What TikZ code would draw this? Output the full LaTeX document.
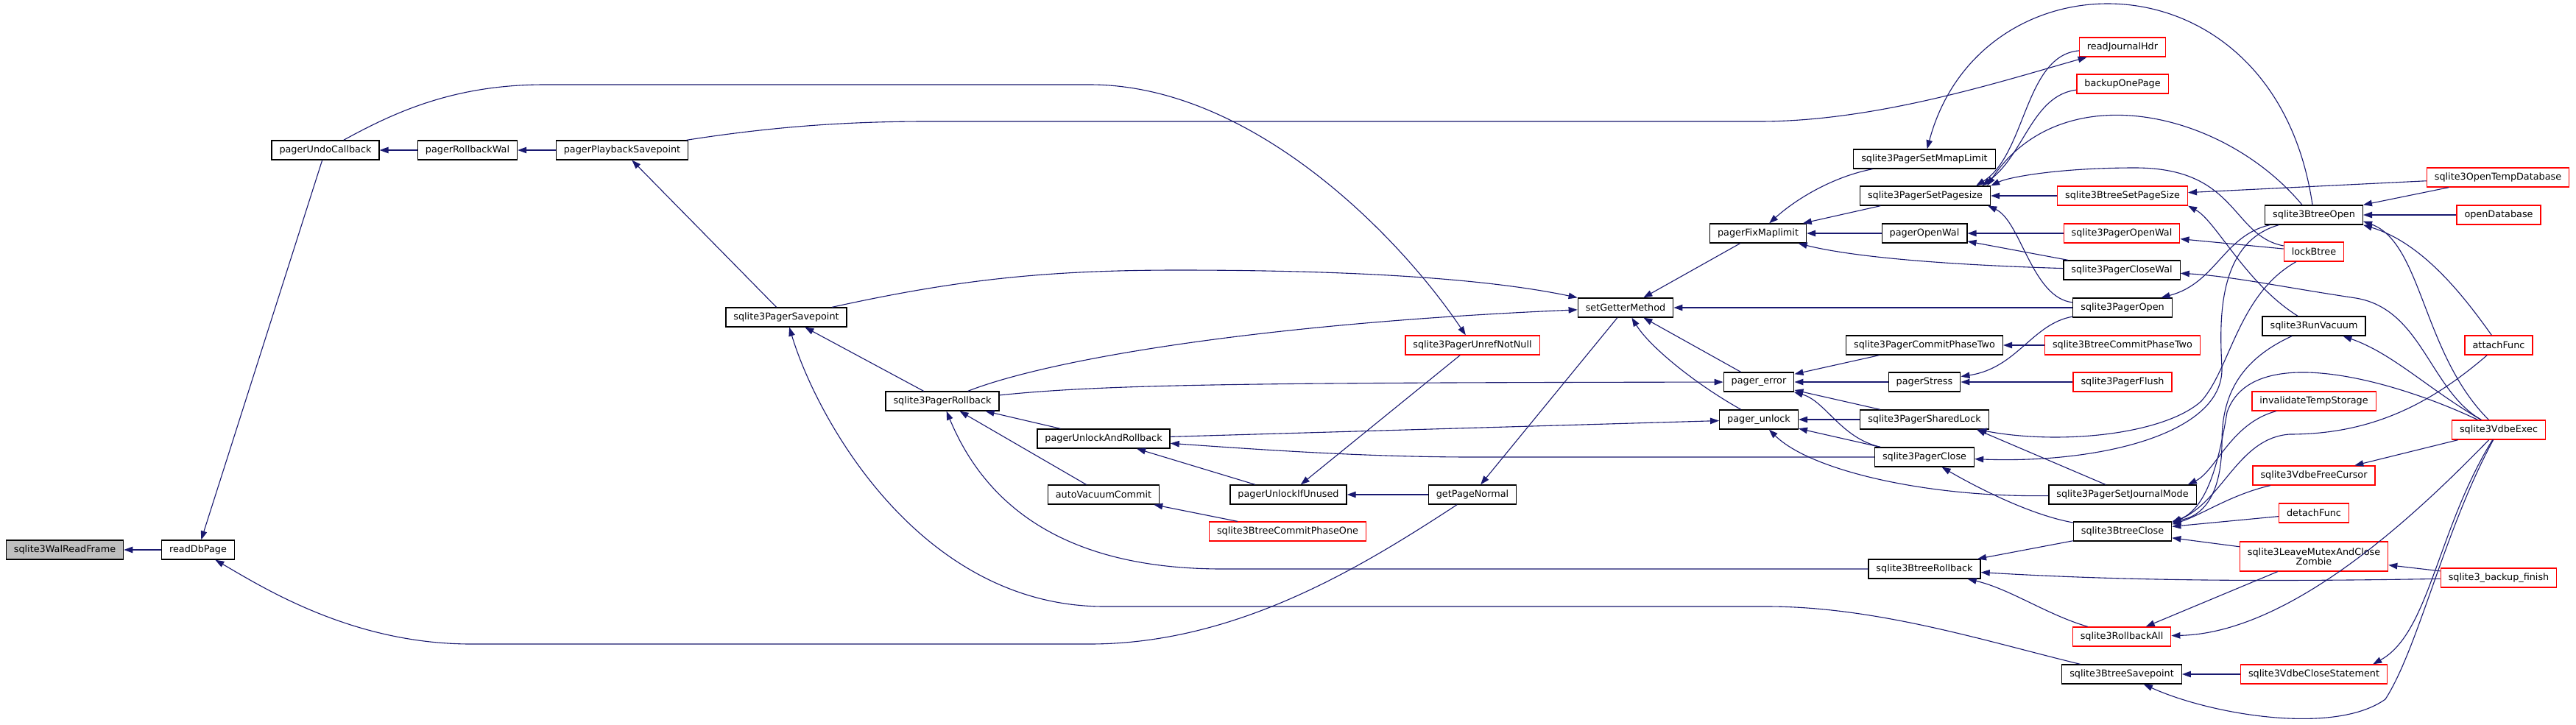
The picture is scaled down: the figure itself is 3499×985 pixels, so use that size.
\documentclass[tikz,border=0pt]{standalone}
\usepackage{fontspec}
\setmainfont{DejaVu Sans}
\usetikzlibrary{arrows.meta}
\definecolor{dxedge}{HTML}{191970}
\definecolor{dxred}{HTML}{FF0000}
\definecolor{dxroot}{HTML}{BFBFBF}

\begin{document}
\begin{tikzpicture}[x=1pt, y=-1pt,
    fn/.style={rectangle, draw=black, line width=1.3pt, fill=white,
               minimum height=26pt, inner xsep=10.5pt, inner ysep=2pt,
               align=center, font=\fontsize{12.8}{13.5}\selectfont},
    fnred/.style={fn, draw=dxred},
    fnroot/.style={fn, fill=dxroot},
    call/.style={-{Triangle[length=12pt,width=8.5pt]}, draw=dxedge, line width=1.1pt},
]
    \useasboundingbox (0,0) rectangle (3499,985);
    \fill[white] (0,0) rectangle (3499,985);

    % functions, one column per call depth
    \node[fnroot] (walread) at (88,747) {sqlite3WalReadFrame};
    \node[fn] (readdb) at (269,747) {readDbPage};
    \node[fn] (undocb) at (442,204) {pagerUndoCallback};
    \node[fn] (rbwal) at (635,204) {pagerRollbackWal};
    \node[fn] (playsp) at (845,204) {pagerPlaybackSavepoint};
    \node[fn] (pgsavept) at (1068,431) {sqlite3PagerSavepoint};
    \node[fn] (pgrollback) at (1280,545) {sqlite3PagerRollback};
    \node[fn] (unlockrb) at (1499,596) {pagerUnlockAndRollback};
    \node[fn] (autovac) at (1499,672) {autoVacuumCommit};
    \node[fn] (unlockifun) at (1750,672) {pagerUnlockIfUnused};
    \node[fnred] (btcommit1) at (1749,722) {sqlite3BtreeCommitPhaseOne};
    \node[fnred] (unrefnn) at (2000,469) {sqlite3PagerUnrefNotNull};
    \node[fn] (getpagenormal) at (2000,672) {getPageNormal};
    \node[fn] (setgetter) at (2208,418) {setGetterMethod};
    \node[fn] (fixmap) at (2388,317) {pagerFixMaplimit};
    \node[fn] (pgerror) at (2389,519) {pager\_error};
    \node[fn] (pgunlock) at (2389,570) {pager\_unlock};
    \node[fn] (setmmap) at (2614,216) {sqlite3PagerSetMmapLimit};
    \node[fn] (setpagesize) at (2615,266) {sqlite3PagerSetPagesize};
    \node[fn] (openwal) at (2614,317) {pagerOpenWal};
    \node[fn] (pgcommit2) at (2614,469) {sqlite3PagerCommitPhaseTwo};
    \node[fn] (stress) at (2614,519) {pagerStress};
    \node[fn] (sharedlock) at (2614,570) {sqlite3PagerSharedLock};
    \node[fn] (pgclose) at (2614,621) {sqlite3PagerClose};
    \node[fn] (btrollback) at (2614,773) {sqlite3BtreeRollback};
    \node[fnred] (jrnlhdr) at (2883,64) {readJournalHdr};
    \node[fnred] (backup1) at (2883,114) {backupOnePage};
    \node[fnred] (btsetpagesize) at (2883,266) {sqlite3BtreeSetPageSize};
    \node[fnred] (pgopenwal) at (2882,317) {sqlite3PagerOpenWal};
    \node[fn] (pgclosewal) at (2882,367) {sqlite3PagerCloseWal};
    \node[fn] (pgopen) at (2883,418) {sqlite3PagerOpen};
    \node[fnred] (btcommit2) at (2883,469) {sqlite3BtreeCommitPhaseTwo};
    \node[fnred] (pgflush) at (2883,519) {sqlite3PagerFlush};
    \node[fn] (jrnlmode) at (2883,672) {sqlite3PagerSetJournalMode};
    \node[fn] (btclose) at (2883,722) {sqlite3BtreeClose};
    \node[fnred] (rollbackall) at (2882,865) {sqlite3RollbackAll};
    \node[fn] (btsavept) at (2882,916) {sqlite3BtreeSavepoint};
    \node[fn] (btopen) at (3143,292) {sqlite3BtreeOpen};
    \node[fnred] (lockbt) at (3143,342) {lockBtree};
    \node[fn] (vacuum) at (3143,443) {sqlite3RunVacuum};
    \node[fnred] (invtemp) at (3143,545) {invalidateTempStorage};
    \node[fnred] (freecur) at (3143,646) {sqlite3VdbeFreeCursor};
    \node[fnred] (detach) at (3143,697) {detachFunc};
    \node[fnred, minimum height=40pt] (zombie) at (3143,756) {sqlite3LeaveMutexAndClose\\Zombie};
    \node[fnred] (closestmt) at (3143,916) {sqlite3VdbeCloseStatement};
    \node[fnred] (opentemp) at (3393,241) {sqlite3OpenTempDatabase};
    \node[fnred] (opendb) at (3394,292) {openDatabase};
    \node[fnred] (attach) at (3394,469) {attachFunc};
    \node[fnred] (vdbeexec) at (3394,584) {sqlite3VdbeExec};
    \node[fnred] (bkfinish) at (3394,785) {sqlite3\_backup\_finish};

    % calls into the left part
    \draw[call] (readdb) -- (walread);
    \draw[call] (undocb) -- (readdb);
    \draw[call] (getpagenormal) .. controls (1850,770) and (1680,875) .. (1480,875) -- (640,875)
        .. controls (480,875) and (360,800) .. (readdb);
    \draw[call] (rbwal) -- (undocb);
    \draw[call] (playsp) -- (rbwal);
    \draw[call] (pgsavept) -- (playsp);
    \draw[call] (pgrollback) -- (pgsavept);
    \draw[call] (btsavept) .. controls (2700,872) and (2550,824) .. (2400,824) -- (1500,824)
        .. controls (1250,824) and (1110,570) .. (pgsavept);
    \draw[call] (unlockrb) -- (pgrollback);
    \draw[call] (autovac) -- (pgrollback);
    \draw[call] (btrollback) -- (1660,773) .. controls (1450,773) and (1340,690) .. (pgrollback);
    \draw[call] (pgrollback) .. controls (1500,522) and (1700,520) .. (pgerror);
    \draw[call] (pgrollback) .. controls (1420,490) and (1700,440) .. (setgetter);
    \draw[call] (pgsavept) .. controls (1300,380) and (1420,367) .. (1600,367)
        .. controls (1900,367) and (2050,385) .. (setgetter);
    \draw[call] (playsp) .. controls (1050,172) and (1150,165) .. (1260,165) -- (2390,165)
        .. controls (2550,165) and (2720,110) .. (jrnlhdr);
    \draw[call] (undocb) .. controls (540,150) and (620,115) .. (740,115) -- (1480,115)
        .. controls (1700,115) and (1900,320) .. (unrefnn);
    \draw[call] (btcommit1) -- (autovac);
    \draw[call] (unlockifun) -- (unlockrb);
    \draw[call] (unrefnn) -- (unlockifun);
    \draw[call] (getpagenormal) -- (unlockifun);
    \draw[call] (unlockrb) -- (pgunlock);
    \draw[call] (pgclose) -- (2000,621) .. controls (1850,621) and (1700,610) .. (unlockrb);

    % middle part
    \draw[call] (setgetter) -- (getpagenormal);
    \draw[call] (fixmap) -- (setgetter);
    \draw[call] (pgerror) -- (setgetter);
    \draw[call] (pgunlock) .. controls (2300,520) and (2240,470) .. (setgetter);
    \draw[call] (pgopen) -- (setgetter);
    \draw[call] (setmmap) .. controls (2490,240) and (2440,270) .. (fixmap);
    \draw[call] (setpagesize) -- (fixmap);
    \draw[call] (openwal) -- (fixmap);
    \draw[call] (pgclosewal) .. controls (2650,360) and (2520,350) .. (fixmap);
    \draw[call] (pgcommit2) -- (pgerror);
    \draw[call] (stress) -- (pgerror);
    \draw[call] (sharedlock) -- (pgerror);
    \draw[call] (pgclose) .. controls (2500,595) and (2480,545) .. (pgerror);
    \draw[call] (sharedlock) -- (pgunlock);
    \draw[call] (pgclose) -- (pgunlock);
    \draw[call] (jrnlmode) .. controls (2620,676) and (2460,640) .. (pgunlock);
    \draw[call] (pgflush) -- (stress);
    \draw[call] (pgopen) .. controls (2760,440) and (2740,500) .. (stress);
    \draw[call] (btcommit2) -- (pgcommit2);
    \draw[call] (pgopenwal) -- (openwal);
    \draw[call] (pgclosewal) -- (openwal);

    % page size and mmap limit
    \draw[call] (btsetpagesize) -- (setpagesize);
    \draw[call] (jrnlhdr) .. controls (2750,75) and (2752,210) .. ([xshift=-20pt]setpagesize.north east);
    \draw[call] (backup1) .. controls (2760,130) and (2750,210) .. ([xshift=-12pt]setpagesize.north east);
    \draw[call] ([xshift=-16pt]btopen.north) .. controls (3020,150) and (2800,100) .. ([xshift=-5pt]setpagesize.north east);
    \draw[call] (lockbt) .. controls (3030,320) and (3040,228) .. (2900,228)
        .. controls (2800,228) and (2730,240) .. (setpagesize.north east);
    \draw[call] (pgopen) .. controls (2760,405) and (2745,300) .. ([xshift=-4pt]setpagesize.south east);
    \draw[call] (btopen) .. controls (3090,-70) and (2690,-70) .. (setmmap);
    \draw[call] (opentemp) -- (btsetpagesize);
    \draw[call] (vacuum) .. controls (3050,385) and (3010,300) .. (btsetpagesize.south east);

    % right part
    \draw[call] (opentemp) -- (btopen);
    \draw[call] (opendb) -- (btopen);
    \draw[call] (vdbeexec) .. controls (3290,480) and (3290,330) .. ([yshift=5pt]btopen.south east);
    \draw[call] (attach) .. controls (3345,400) and (3290,330) .. (btopen.south east);
    \draw[call] (vdbeexec) .. controls (3300,530) and (3250,480) .. (vacuum);
    \draw[call] (vdbeexec) .. controls (3300,530) and (3290,420) .. (3200,405)
        .. controls (3100,390) and (3030,375) .. (pgclosewal);
    \draw[call] (btopen) .. controls (3020,320) and (3010,385) .. (pgopen);
    \draw[call] (btopen) .. controls (3010,330) and (3015,440) .. (3018,500)
        .. controls (3020,590) and (2850,630) .. (pgclose);
    \draw[call] (lockbt) .. controls (3040,400) and (3030,500) .. (2990,545)
        .. controls (2940,590) and (2800,605) .. (sharedlock);
    \draw[call] ([xshift=-23pt]jrnlmode.north) -- ([xshift=-17pt]sharedlock.south east);
    \draw[call] (lockbt) -- (pgopenwal);
    \draw[call] (btclose) .. controls (2760,700) and (2690,665) .. (pgclose);
    \draw[call] (btclose) -- (btrollback);
    \draw[call] (bkfinish) .. controls (3100,790) and (2900,790) .. (btrollback);
    \draw[call] (rollbackall) .. controls (2780,835) and (2730,800) .. (btrollback);
    \draw[call] (zombie) -- (rollbackall);
    \draw[call] (vdbeexec) .. controls (3300,680) and (3120,860) .. (rollbackall);
    \draw[call] (closestmt) -- (btsavept);
    \draw[call] (vdbeexec) .. controls (3320,720) and (3285,880) .. (3240,950)
        .. controls (3170,1000) and (3000,970) .. (btsavept);
    \draw[call] (vdbeexec) .. controls (3310,720) and (3300,860) .. ([xshift=-20pt]closestmt.north east);
    \draw[call] (vdbeexec) -- (freecur);
    \draw[call] (bkfinish) -- (zombie);
    \draw[call] (zombie) -- (btclose);
    \draw[call] (detach) -- ([yshift=-7pt]btclose.north east);
    \draw[call] (freecur) .. controls (3030,672) and (2990,700) .. ([yshift=-4pt]btclose.north east);
    \draw[call] (attach) .. controls (3300,550) and (3220,590) .. (3110,590)
        .. controls (3040,595) and (3020,680) .. ([yshift=-2pt]btclose.north east);
    \draw[call] (vacuum) .. controls (3040,490) and (3018,540) .. (3018,600)
        .. controls (3018,660) and (3000,700) .. (btclose.north east);
    \draw[call] (vdbeexec) .. controls (3260,520) and (3060,460) .. (3025,560)
        .. controls (3015,620) and (3000,690) .. ([yshift=-1pt]btclose.north east);
    \draw[call] (invtemp) .. controls (3030,575) and (3010,640) .. ([xshift=-12pt]jrnlmode.north east);
\end{tikzpicture}
\end{document}
